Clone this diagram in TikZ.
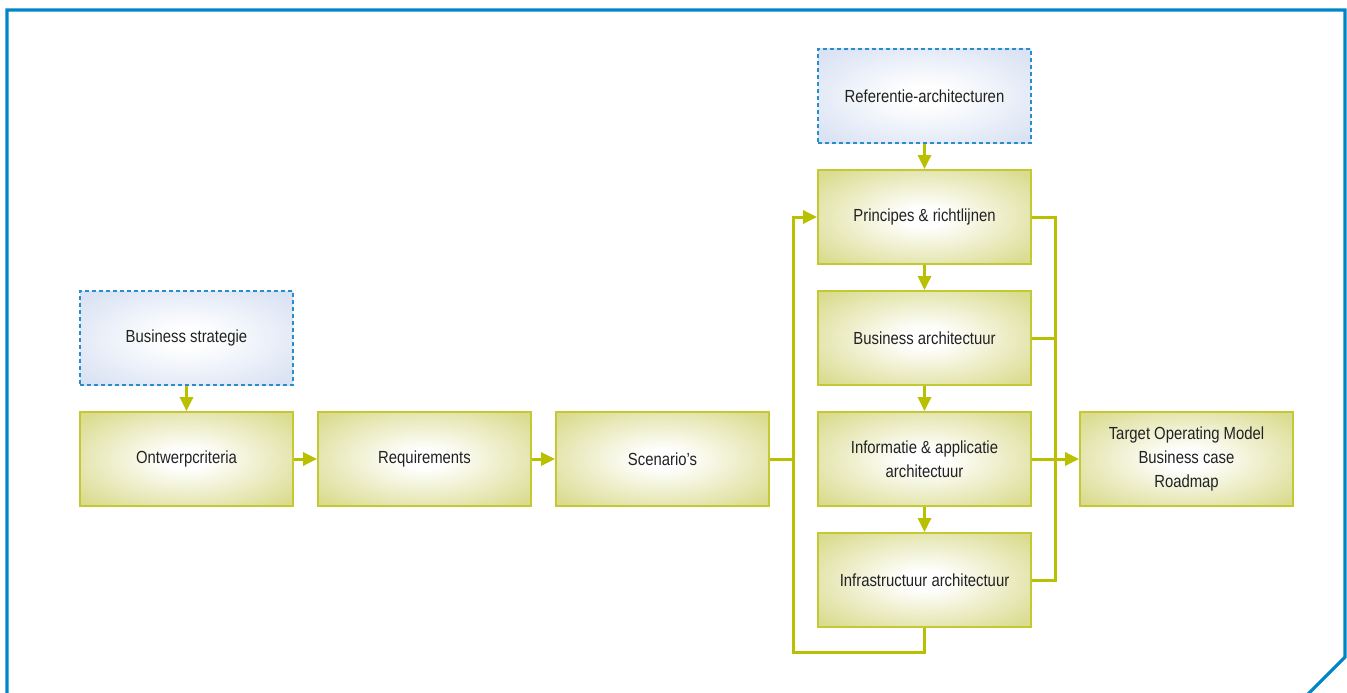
\documentclass[tikz,border=0pt]{standalone}
\usepackage{fontspec}
\setmainfont{Liberation Sans}[FakeStretch=0.85]
\usetikzlibrary{arrows.meta}
\definecolor{framebl}{RGB}{0,133,200}
\definecolor{linegr}{RGB}{184,192,0}
\definecolor{boxedge}{RGB}{196,200,50}
\definecolor{boxouter}{RGB}{204,206,100}
\definecolor{blueedge}{RGB}{40,140,205}
\definecolor{blueouter}{RGB}{206,218,240}
\definecolor{txt}{RGB}{34,34,34}
\pgfdeclareradialshading{greenglow}{\pgfpoint{0bp}{0bp}}{%
  color(0bp)=(white); color(5bp)=(white); color(32bp)=(boxouter!70!white);
  color(52bp)=(boxouter); color(75bp)=(boxouter!92!black)}
\pgfdeclareradialshading{blueglow}{\pgfpoint{0bp}{0bp}}{%
  color(0bp)=(white); color(5bp)=(white); color(32bp)=(blueouter!75!white);
  color(52bp)=(blueouter); color(75bp)=(blueouter)}
\tikzset{
  stagebox/.style={draw=boxedge, line width=1.8pt, shading=greenglow,
    minimum width=213pt, minimum height=94pt, inner sep=2pt,
    text=txt, font=\fontsize{17.5}{24}\selectfont, align=center},
  inputbox/.style={stagebox, draw=blueedge, line width=1.2pt,
    dash pattern=on 4pt off 3pt, shading=blueglow},
  flow/.style={draw=linegr, line width=3pt, line join=miter},
  flowarr/.style={flow, -{Triangle[length=14pt,width=13pt]}},
  frameline/.style={draw=framebl, line width=3.2pt, line join=miter}
}
\begin{document}
\begin{tikzpicture}[x=1pt,y=-1pt]
\useasboundingbox (0,0) rectangle (1347,693);
% outer frame with chamfered corner
\draw[frameline] (7,700) -- (7,10) -- (1345,10) -- (1345,657) -- (1305,697);

% nodes
\node[inputbox] (bstrat) at (186.5,338) {Business strategie};
\node[stagebox] (ontw)   at (186.5,459) {Ontwerpcriteria};
\node[stagebox] (req)    at (424.5,459) {Requirements};
\node[stagebox] (scen)   at (662.5,459) {Scenario’s};
\node[inputbox] (ref)    at (924.5,96)  {Referentie-architecturen};
\node[stagebox] (princ)  at (924.5,217) {Principes \& richtlijnen};
\node[stagebox] (barch)  at (924.5,338) {Business architectuur};
\node[stagebox] (info)   at (924.5,459) {Informatie \& applicatie\\architectuur};
\node[stagebox] (infra)  at (924.5,580) {Infrastructuur architectuur};
\node[stagebox] (tom)    at (1186.5,459) {Target Operating Model\\Business case\\Roadmap};

\coordinate (loopL) at (793,652);
\coordinate (rbus) at (1055,459);

% main chain
\draw[flowarr] (bstrat) -- (ontw);
\draw[flowarr] (ontw) -- (req);
\draw[flowarr] (req) -- (scen);

% architecture column
\draw[flowarr] (ref) -- (princ);
\draw[flowarr] (princ) -- (barch);
\draw[flowarr] (barch) -- (info);
\draw[flowarr] (info) -- (infra);

% feedback loop into principles
\draw[flowarr] (infra.south) |- (loopL) |- (princ.west);
\draw[flow] (scen.east) -- (scen.east -| loopL);

% collector bus to the outcome
\draw[flow] (princ.east) -| (rbus);
\draw[flow] (infra.east) -| (rbus);
\draw[flow] (barch.east) -- (barch.east -| rbus);
\draw[flowarr] (info.east) -- (tom.west);
\end{tikzpicture}
\end{document}
